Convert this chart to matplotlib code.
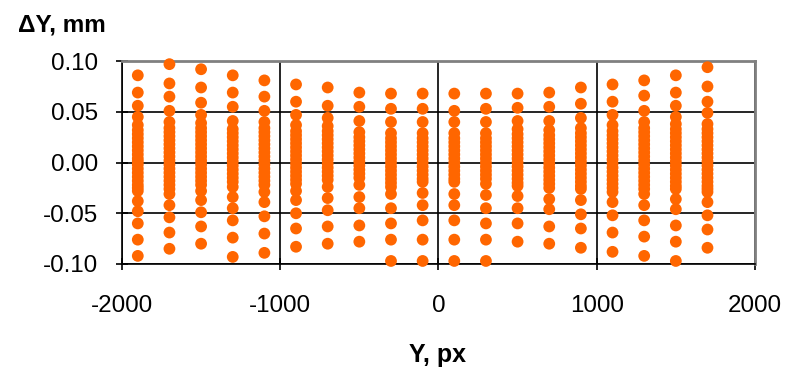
import matplotlib
matplotlib.use("Agg")
import matplotlib.pyplot as plt

plt.rcParams['font.family'] = ['Liberation Sans', 'DejaVu Sans']
plt.rcParams['axes.unicode_minus'] = False

# column positions along Y (px) and the residuals dY (mm) measured in each column
columns = [-1900, -1700, -1500, -1300, -1100, -900, -700, -500, -300, -100,
           100, 300, 500, 700, 900, 1100, 1300, 1500, 1700]

residuals = [
    [0.086, 0.069, 0.056, 0.045, 0.037, 0.032, 0.028, 0.024, 0.020, 0.016, 0.012, 0.008, 0.004, 0.001,
     -0.002, -0.006, -0.010, -0.014, -0.018, -0.022, -0.025, -0.028, -0.038, -0.048, -0.060, -0.076, -0.092],
    [0.097, 0.078, 0.065, 0.051, 0.040, 0.034, 0.030, 0.026, 0.022, 0.018, 0.014, 0.010, 0.006, 0.002,
     -0.002, -0.006, -0.010, -0.014, -0.018, -0.022, -0.026, -0.031, -0.042, -0.054, -0.069, -0.085],
    [0.092, 0.074, 0.059, 0.047, 0.039, 0.034, 0.030, 0.026, 0.022, 0.018, 0.014, 0.010, 0.006, 0.002,
     -0.002, -0.006, -0.010, -0.014, -0.018, -0.022, -0.028, -0.037, -0.049, -0.063, -0.080],
    [0.086, 0.069, 0.055, 0.041, 0.033, 0.029, 0.025, 0.021, 0.017, 0.013, 0.009, 0.005, 0.001,
     -0.003, -0.007, -0.011, -0.015, -0.019, -0.024, -0.034, -0.045, -0.057, -0.074, -0.093],
    [0.081, 0.065, 0.051, 0.040, 0.034, 0.030, 0.026, 0.022, 0.018, 0.014, 0.010, 0.006, 0.002,
     -0.002, -0.006, -0.010, -0.014, -0.018, -0.022, -0.029, -0.039, -0.053, -0.070, -0.089],
    [0.077, 0.060, 0.047, 0.037, 0.031, 0.027, 0.023, 0.019, 0.015, 0.011, 0.007, 0.003,
     -0.001, -0.005, -0.009, -0.013, -0.017, -0.021, -0.028, -0.037, -0.050, -0.065, -0.083],
    [0.074, 0.056, 0.044, 0.036, 0.031, 0.027, 0.023, 0.019, 0.015, 0.011, 0.007, 0.003,
     -0.001, -0.005, -0.009, -0.013, -0.017, -0.024, -0.035, -0.047, -0.063, -0.080],
    [0.069, 0.055, 0.041, 0.030, 0.025, 0.021, 0.017, 0.013, 0.009, 0.005, 0.001,
     -0.003, -0.007, -0.011, -0.015, -0.022, -0.034, -0.045, -0.062, -0.078],
    [0.068, 0.053, 0.040, 0.029, 0.024, 0.020, 0.016, 0.012, 0.008, 0.004, 0.000,
     -0.004, -0.008, -0.012, -0.016, -0.020, -0.024, -0.031, -0.045, -0.060, -0.076, -0.097],
    [0.068, 0.053, 0.040, 0.029, 0.024, 0.020, 0.016, 0.012, 0.008, 0.004, 0.000,
     -0.004, -0.008, -0.012, -0.016, -0.019, -0.030, -0.042, -0.057, -0.076, -0.097],
    [0.068, 0.051, 0.040, 0.029, 0.024, 0.020, 0.016, 0.012, 0.008, 0.004, 0.000,
     -0.004, -0.008, -0.012, -0.016, -0.019, -0.031, -0.042, -0.057, -0.076, -0.097],
    [0.068, 0.053, 0.040, 0.029, 0.024, 0.020, 0.016, 0.012, 0.008, 0.004, 0.000,
     -0.004, -0.008, -0.012, -0.016, -0.021, -0.032, -0.045, -0.060, -0.076, -0.097],
    [0.068, 0.054, 0.041, 0.033, 0.028, 0.024, 0.020, 0.016, 0.012, 0.008, 0.004, 0.000,
     -0.004, -0.008, -0.012, -0.016, -0.020, -0.023, -0.033, -0.045, -0.060, -0.078],
    [0.069, 0.055, 0.041, 0.032, 0.027, 0.023, 0.019, 0.015, 0.011, 0.007, 0.003,
     -0.001, -0.005, -0.009, -0.013, -0.017, -0.021, -0.025, -0.036, -0.046, -0.063, -0.080],
    [0.074, 0.058, 0.044, 0.034, 0.029, 0.025, 0.021, 0.017, 0.013, 0.009, 0.005, 0.001,
     -0.003, -0.007, -0.011, -0.015, -0.019, -0.023, -0.026, -0.037, -0.051, -0.065, -0.084],
    [0.077, 0.060, 0.047, 0.037, 0.031, 0.027, 0.023, 0.019, 0.015, 0.011, 0.007, 0.003,
     -0.001, -0.005, -0.009, -0.013, -0.017, -0.021, -0.025, -0.029, -0.039, -0.052, -0.069, -0.088],
    [0.081, 0.066, 0.051, 0.040, 0.034, 0.030, 0.026, 0.022, 0.018, 0.014, 0.010, 0.006, 0.002,
     -0.002, -0.006, -0.010, -0.014, -0.018, -0.022, -0.026, -0.031, -0.042, -0.057, -0.073, -0.092],
    [0.086, 0.069, 0.056, 0.045, 0.038, 0.033, 0.029, 0.025, 0.021, 0.017, 0.013, 0.009, 0.005, 0.001,
     -0.003, -0.007, -0.011, -0.015, -0.019, -0.023, -0.026, -0.036, -0.046, -0.062, -0.078, -0.097],
    [0.094, 0.075, 0.060, 0.049, 0.038, 0.033, 0.029, 0.025, 0.021, 0.017, 0.013, 0.009, 0.005, 0.001,
     -0.003, -0.007, -0.011, -0.015, -0.019, -0.023, -0.026, -0.029, -0.039, -0.052, -0.066, -0.084],
]

x_ticks = [-2000, -1000, 0, 1000, 2000]
y_ticks = [-0.10, -0.05, 0.00, 0.05, 0.10]

fig = plt.figure(figsize=(8.04, 3.75), dpi=100)
ax = fig.add_axes([0.1517, 0.296, 0.7873, 0.541])

for x, ys in zip(columns, residuals):
    ax.scatter([x] * len(ys), ys, s=72, color='#FF6600', edgecolors='none', zorder=3, clip_on=False)

ax.set_xlim(-2000, 2000)
ax.set_ylim(-0.10, 0.10)
ax.set_xticks(x_ticks)
ax.set_yticks(y_ticks)
ax.set_yticklabels(['%.2f' % v for v in y_ticks])
ax.grid(True, color='black', linewidth=1.2, zorder=1)
ax.set_axisbelow(True)

for side in ['left', 'bottom']:
    ax.spines[side].set_color('black')
    ax.spines[side].set_linewidth(1.2)
for side in ['top', 'right']:
    ax.spines[side].set_color('#808080')
    ax.spines[side].set_linewidth(2)

ax.tick_params(direction='inout', length=9, width=1.2, labelsize=17.4)
ax.tick_params(axis='x', pad=18)
ax.tick_params(axis='y', pad=12.5)

fig.text(0.022, 0.933, '\u0394Y, mm', fontsize=17.5, fontweight='bold', ha='left', va='center')
fig.text(0.544, 0.053, 'Y, px', fontsize=18, fontweight='bold', ha='center', va='center')

fig.savefig('out.png', dpi=100)
